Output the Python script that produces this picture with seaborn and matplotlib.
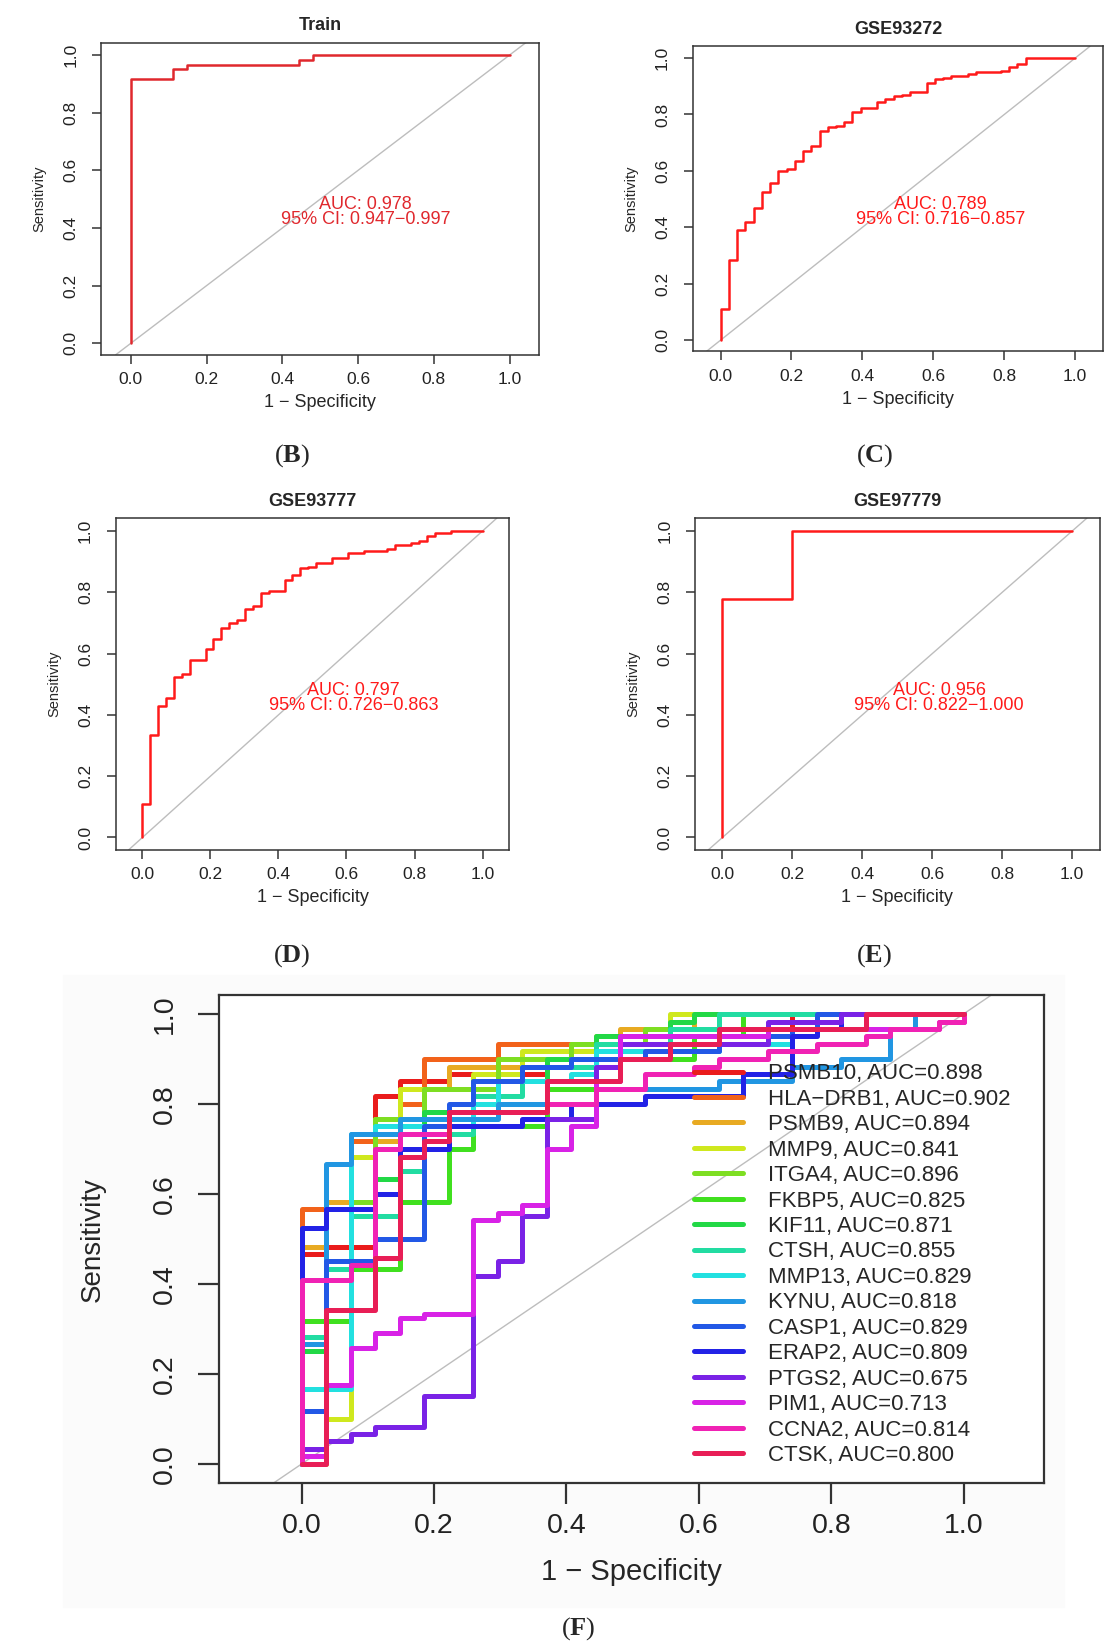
import matplotlib
matplotlib.use("Agg")
import matplotlib.pyplot as plt
import matplotlib.ticker as mticker
from matplotlib.patches import Rectangle
import pandas as pd
import seaborn as sns

# ---- ROC data, panels B-E (1 - specificity, sensitivity) ----
train_fpr = [0, 0, 0.111, 0.148, 0.444, 0.481, 1.0]
train_tpr = [0, 0.917, 0.95, 0.967, 0.983, 1.0, 1.0]

gse93272_fpr = [0, 0, 0.023, 0.047, 0.070, 0.093, 0.116, 0.140, 0.163, 0.186, 0.209, 0.233,
                0.256, 0.279, 0.302, 0.326, 0.349, 0.372, 0.395, 0.442, 0.465, 0.488, 0.512,
                0.535, 0.581, 0.605, 0.628, 0.651, 0.698, 0.721, 0.791, 0.814, 0.837, 0.860, 1.0]
gse93272_tpr = [0, 0.112, 0.285, 0.39, 0.42, 0.467, 0.525, 0.558, 0.6, 0.605, 0.635, 0.67,
                0.69, 0.74, 0.755, 0.76, 0.772, 0.808, 0.824, 0.845, 0.856, 0.864, 0.87,
                0.88, 0.91, 0.924, 0.93, 0.937, 0.944, 0.95, 0.953, 0.97, 0.98, 1.0, 1.0]

gse93777_fpr = [0, 0, 0.022, 0.046, 0.069, 0.092, 0.116, 0.139, 0.186, 0.209, 0.232, 0.255,
                0.278, 0.302, 0.326, 0.349, 0.372, 0.418, 0.441, 0.464, 0.487, 0.51, 0.558,
                0.604, 0.65, 0.719, 0.743, 0.789, 0.812, 0.836, 0.859, 0.906, 1.0]
gse93777_tpr = [0, 0.109, 0.333, 0.43, 0.455, 0.525, 0.535, 0.578, 0.616, 0.646, 0.685, 0.701,
                0.711, 0.745, 0.756, 0.797, 0.803, 0.839, 0.857, 0.879, 0.884, 0.897, 0.913,
                0.927, 0.936, 0.941, 0.953, 0.962, 0.966, 0.984, 0.995, 1.0, 1.0]

gse97779_fpr = [0, 0, 0.2, 1.0]
gse97779_tpr = [0, 0.778, 1.0, 1.0]

small_titles = ["Train", "GSE93272", "GSE93777", "GSE97779"]
small_auc = ["AUC: 0.978\n95% CI: 0.947\u22120.997",
             "AUC: 0.789\n95% CI: 0.716\u22120.857",
             "AUC: 0.797\n95% CI: 0.726\u22120.863",
             "AUC: 0.956\n95% CI: 0.822\u22121.000"]
small_tags = ["B", "C", "D", "E"]

# ---- panel F: 16 single-gene ROC curves ----
genes = ["PSMB10", "HLA\u2212DRB1", "PSMB9", "MMP9", "ITGA4", "FKBP5", "KIF11", "CTSH",
         "MMP13", "KYNU", "CASP1", "ERAP2", "PTGS2", "PIM1", "CCNA2", "CTSK"]
gene_auc = [0.898, 0.902, 0.894, 0.841, 0.896, 0.825, 0.871, 0.855,
            0.829, 0.818, 0.829, 0.809, 0.675, 0.713, 0.814, 0.800]
gene_colors = ["#ea1c1c", "#f2621a", "#e8aa22", "#cfe81e", "#7ede22", "#40e01f", "#22d846", "#22dca2",
               "#22e0e0", "#2196e2", "#2258e6", "#2222e6", "#7a22e6", "#d822e6", "#f022b4", "#e81e56"]

psmb10_fpr = [0, 0, 0.037, 0.111, 0.148, 0.222, 0.370, 0.556, 0.630, 0.741, 1.0]
psmb10_tpr = [0, 0.467, 0.483, 0.817, 0.850, 0.867, 0.900, 0.933, 0.967, 1.0, 1.0]
hla_fpr = [0, 0, 0.074, 0.148, 0.185, 0.296, 0.556, 0.630, 1.0]
hla_tpr = [0, 0.567, 0.717, 0.800, 0.900, 0.933, 0.967, 1.0, 1.0]
psmb9_fpr = [0, 0, 0.037, 0.111, 0.148, 0.222, 0.407, 0.481, 0.593, 1.0]
psmb9_tpr = [0, 0.483, 0.583, 0.717, 0.833, 0.883, 0.933, 0.967, 1.0, 1.0]
mmp9_fpr = [0, 0.037, 0.074, 0.111, 0.148, 0.259, 0.333, 0.444, 0.556, 1.0]
mmp9_tpr = [0, 0.100, 0.683, 0.767, 0.833, 0.867, 0.917, 0.950, 1.0, 1.0]
itga4_fpr = [0, 0, 0.037, 0.074, 0.111, 0.185, 0.296, 0.407, 0.519, 0.630, 1.0]
itga4_tpr = [0, 0.317, 0.450, 0.583, 0.767, 0.833, 0.900, 0.933, 0.967, 1.0, 1.0]
fkbp5_fpr = [0, 0, 0.074, 0.148, 0.222, 0.259, 0.370, 0.444, 0.593, 0.667, 1.0]
fkbp5_tpr = [0, 0.317, 0.433, 0.583, 0.700, 0.750, 0.833, 0.900, 0.950, 1.0, 1.0]
kif11_fpr = [0, 0, 0.037, 0.074, 0.111, 0.148, 0.185, 0.259, 0.370, 0.444, 0.556, 0.593, 1.0]
kif11_tpr = [0, 0.250, 0.450, 0.550, 0.633, 0.700, 0.783, 0.850, 0.900, 0.950, 0.983, 1.0, 1.0]
ctsh_fpr = [0, 0, 0.037, 0.074, 0.148, 0.185, 0.259, 0.333, 0.444, 0.556, 0.630, 1.0]
ctsh_tpr = [0, 0.283, 0.433, 0.550, 0.650, 0.733, 0.817, 0.883, 0.933, 0.967, 1.0, 1.0]
mmp13_fpr = [0, 0, 0.074, 0.111, 0.259, 0.296, 0.407, 0.444, 0.630, 0.741, 0.852, 1.0]
mmp13_tpr = [0, 0.167, 0.733, 0.750, 0.800, 0.850, 0.867, 0.917, 0.933, 0.967, 1.0, 1.0]
kynu_fpr = [0, 0, 0.037, 0.074, 0.148, 0.296, 0.444, 0.630, 0.741, 0.815, 0.889, 0.926, 1.0]
kynu_tpr = [0, 0.267, 0.667, 0.733, 0.767, 0.800, 0.833, 0.850, 0.883, 0.900, 0.967, 1.0, 1.0]
casp1_fpr = [0, 0, 0.037, 0.111, 0.185, 0.222, 0.259, 0.333, 0.407, 0.519, 0.630, 0.741, 0.778, 1.0]
casp1_tpr = [0, 0.117, 0.450, 0.500, 0.750, 0.800, 0.850, 0.883, 0.900, 0.917, 0.950, 0.967, 1.0, 1.0]
erap2_fpr = [0, 0, 0.037, 0.111, 0.148, 0.222, 0.333, 0.407, 0.519, 0.667, 0.741, 0.778, 0.815, 1.0]
erap2_tpr = [0, 0.525, 0.567, 0.600, 0.700, 0.750, 0.767, 0.800, 0.817, 0.867, 0.950, 0.967, 1.0, 1.0]
ptgs2_fpr = [0, 0, 0.037, 0.074, 0.111, 0.185, 0.259, 0.296, 0.333, 0.370, 0.444, 0.481, 0.704, 0.815, 1.0]
ptgs2_tpr = [0, 0.033, 0.050, 0.067, 0.083, 0.150, 0.417, 0.450, 0.550, 0.767, 0.883, 0.933, 0.983, 1.0, 1.0]
pim1_fpr = [0, 0, 0.037, 0.074, 0.111, 0.148, 0.185, 0.259, 0.296, 0.333, 0.370, 0.407, 0.444,
            0.481, 0.704, 0.963, 1.0]
pim1_tpr = [0, 0.017, 0.175, 0.258, 0.292, 0.325, 0.333, 0.542, 0.558, 0.575, 0.700, 0.750, 0.850,
            0.950, 0.967, 0.983, 1.0]
ccna2_fpr = [0, 0, 0.074, 0.111, 0.148, 0.222, 0.370, 0.444, 0.519, 0.593, 0.630, 0.704, 0.778,
             0.852, 0.889, 0.963, 1.0]
ccna2_tpr = [0, 0.408, 0.442, 0.700, 0.733, 0.783, 0.800, 0.833, 0.867, 0.883, 0.900, 0.917, 0.933,
             0.950, 0.967, 0.983, 1.0]
ctsk_fpr = [0, 0.037, 0.111, 0.148, 0.185, 0.222, 0.370, 0.481, 0.556, 0.630, 0.852, 1.0]
ctsk_tpr = [0, 0.342, 0.458, 0.683, 0.717, 0.783, 0.850, 0.900, 0.933, 0.967, 1.0, 1.0]

gene_fpr = [psmb10_fpr, hla_fpr, psmb9_fpr, mmp9_fpr, itga4_fpr, fkbp5_fpr, kif11_fpr, ctsh_fpr,
            mmp13_fpr, kynu_fpr, casp1_fpr, erap2_fpr, ptgs2_fpr, pim1_fpr, ccna2_fpr, ctsk_fpr]
gene_tpr = [psmb10_tpr, hla_tpr, psmb9_tpr, mmp9_tpr, itga4_tpr, fkbp5_tpr, kif11_tpr, ctsh_tpr,
            mmp13_tpr, kynu_tpr, casp1_tpr, erap2_tpr, ptgs2_tpr, pim1_tpr, ccna2_tpr, ctsk_tpr]

ticks = [0.0, 0.2, 0.4, 0.6, 0.8, 1.0]

sns.set_theme(style="white")
plt.rcParams["font.family"] = ["Liberation Sans", "DejaVu Sans"]
plt.rcParams["mathtext.fontset"] = "custom"
plt.rcParams["mathtext.rm"] = "Liberation Serif"
plt.rcParams["mathtext.bf"] = "Liberation Serif:bold"

fig = plt.figure(figsize=(11.14, 16.5), dpi=100)
fig.add_artist(Rectangle((0.057, 0.026), 0.898, 0.383, transform=fig.transFigure,
                         color="#fbfbfb", zorder=-10))


def r_axes(ax, xlim, ylim, lw, tlen, tfs, xpad, ypad):
    ax.set_xlim(*xlim)
    ax.set_ylim(*ylim)
    ax.set_xticks(ticks)
    ax.set_yticks(ticks)
    ax.xaxis.set_major_formatter(mticker.FormatStrFormatter("%.1f"))
    ax.yaxis.set_major_formatter(mticker.FormatStrFormatter("%.1f"))
    for s in ax.spines.values():
        s.set_visible(True)
        s.set_color("#333333")
        s.set_linewidth(lw)
    ax.tick_params(axis="both", direction="out", length=tlen, width=lw, color="#333333",
                   labelsize=tfs, labelcolor="#222222", bottom=True, left=True)
    ax.tick_params(axis="x", pad=xpad)
    ax.tick_params(axis="y", pad=ypad, labelrotation=90)
    plt.setp(ax.get_yticklabels(), va="center")
    ax.grid(False)
    ax.axline((0, 0), (1, 1), color="#bdbdbd", lw=1.0, zorder=1)


# ---- panels B-E ----
small_pos = [[0.091, 0.785, 0.393, 0.189], [0.622, 0.787, 0.368, 0.185],
             [0.104, 0.485, 0.353, 0.201], [0.624, 0.485, 0.363, 0.201]]
small_fpr = [train_fpr, gse93272_fpr, gse93777_fpr, gse97779_fpr]
small_tpr = [train_tpr, gse93272_tpr, gse93777_tpr, gse97779_tpr]
small_color = ["#e0282d", "#ff1a1a", "#ff1a1a", "#ff1a1a"]
tag_xy = [(0.262, 0.724), (0.785, 0.724), (0.262, 0.421), (0.785, 0.421)]

for i in range(4):
    ax = fig.add_axes(small_pos[i])
    sns.lineplot(x=small_fpr[i], y=small_tpr[i], sort=False, estimator=None,
                 drawstyle="steps-post", color=small_color[i], linewidth=1.8, ax=ax, zorder=3)
    r_axes(ax, (-0.078, 1.078), (-0.04, 1.042), 1.1, 6.5, 12.5, 6, 10)
    ax.text(0.62, 0.455, small_auc[i], color=small_color[i], ha="center", va="center",
            fontsize=13, linespacing=0.85)
    ax.set_title(small_titles[i], fontsize=13, fontweight="bold", pad=9)
    ax.set_xlabel("1 \u2212 Specificity", fontsize=13, labelpad=5)
    ax.set_ylabel("Sensitivity", fontsize=10.5, labelpad=12)
    fig.text(tag_xy[i][0], tag_xy[i][1], "($\\mathbf{%s}$)" % small_tags[i],
             ha="center", va="center", fontsize=19, family="Liberation Serif")

# ---- panel F ----
labels = [f"{g}, AUC={a:.3f}" for g, a in zip(genes, gene_auc)]
rows = []
for lab, fpr, tpr in zip(labels, gene_fpr, gene_tpr):
    for a, b in zip(fpr, tpr):
        rows.append({"fpr": a, "tpr": b, "label": lab})
dfF = pd.DataFrame(rows)

axF = fig.add_axes([0.197, 0.101, 0.740, 0.296])
sns.lineplot(data=dfF, x="fpr", y="tpr", hue="label", hue_order=labels, palette=gene_colors,
             sort=False, estimator=None, drawstyle="steps-post", linewidth=3.6, ax=axF, zorder=3)
r_axes(axF, (-0.124, 1.121), (-0.043, 1.042), 1.6, 15, 20.5, 6, 15)
axF.set_xlabel("1 \u2212 Specificity", fontsize=21, labelpad=14)
axF.set_ylabel("Sensitivity", fontsize=20, labelpad=33)

old = axF.get_legend()
handles = old.legend_handles
texts = [t.get_text() for t in old.get_texts()]
leg = axF.legend(handles, texts, loc="upper left", bbox_to_anchor=(0.593, 0.89),
                 bbox_transform=axF.transData, frameon=False, fontsize=16,
                 handlelength=2.2, handletextpad=1.1, labelspacing=0.2,
                 borderpad=0, borderaxespad=0)
for h in leg.legend_handles:
    h.set_linewidth(3.6)

fig.text(0.519, 0.013, "($\\mathbf{F}$)", ha="center", va="center", fontsize=19,
         family="Liberation Serif")

fig.savefig("out.png", dpi=100)
